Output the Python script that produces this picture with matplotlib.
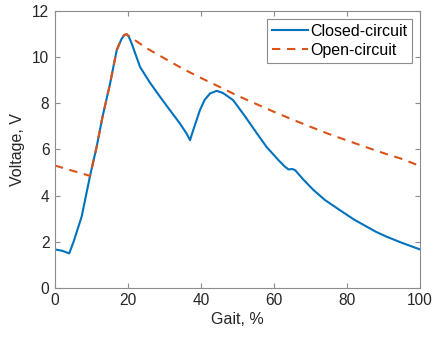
import matplotlib
matplotlib.use("Agg")
import matplotlib.pyplot as plt

plt.rcParams['font.family'] = ['Liberation Sans', 'DejaVu Sans']

# closed-circuit voltage
closed_x = [0, 2, 3.9, 5, 7.3, 9.6, 11.4, 13, 15.1, 16.9, 18.2, 19.0, 19.6, 20.2, 21,
            23.3, 26, 28.8, 31.5, 34.2, 36, 37, 38, 39.7, 41, 42.5, 44.3, 46, 48.8,
            52, 55.3, 58, 61.2, 63, 64, 65, 65.8, 68, 70.8, 74, 78, 82, 85.4, 88,
            90.9, 95, 100]
closed_v = [1.66, 1.6, 1.49, 1.95, 3.08, 4.85, 6.1, 7.4, 8.86, 10.3, 10.78, 10.96,
            11.0, 10.9, 10.6, 9.58, 8.9, 8.28, 7.7, 7.13, 6.7, 6.4, 6.9, 7.7, 8.15,
            8.43, 8.54, 8.45, 8.14, 7.45, 6.7, 6.1, 5.54, 5.25, 5.13, 5.15, 5.1, 4.7,
            4.24, 3.8, 3.37, 2.95, 2.65, 2.42, 2.21, 1.95, 1.66]

# open-circuit voltage
open_x = [0, 9.6, 11.4, 13, 15.1, 16.9, 18.2, 19.0, 19.6, 20, 25, 30, 35, 40, 45, 50,
          55, 60, 65, 70, 75, 80, 85, 90, 95, 100]
open_v = [5.3, 4.85, 6.1, 7.4, 8.86, 10.3, 10.8, 10.97, 11.0, 10.95, 10.4, 9.95, 9.5,
          9.1, 8.72, 8.33, 7.98, 7.63, 7.3, 6.98, 6.67, 6.39, 6.11, 5.84, 5.59, 5.28]

fig = plt.figure(figsize=(4.34, 3.37), dpi=100)
ax = fig.add_axes([0.1267, 0.1463, 0.841, 0.8207])

ax.plot(closed_x, closed_v, color='#0072BD', lw=1.5, label='Closed-circuit')
ax.plot(open_x, open_v, color='#D95319', lw=1.5, dashes=(4, 3.2), label='Open-circuit')

ax.set_xlim(0, 100)
ax.set_ylim(0, 12)
ax.set_xticks([0, 20, 40, 60, 80, 100])
ax.set_yticks([0, 2, 4, 6, 8, 10, 12])

for s in ax.spines.values():
    s.set_color('#8c8c8c')
    s.set_linewidth(0.8)
ax.tick_params(direction='in', length=3.5, width=0.8, colors='#8c8c8c',
               labelcolor='#262626', labelsize=11.2, top=True, right=True, pad=4)

ax.set_xlabel('Gait, %', fontsize=11.5, color='#262626', labelpad=3)
ax.set_ylabel('Voltage, V', fontsize=11.5, color='#262626', labelpad=5)

leg = ax.legend(loc='upper right', fontsize=11.5, fancybox=False, framealpha=1,
                edgecolor='#8c8c8c', borderaxespad=0.5, handlelength=2.25,
                handletextpad=0.12, borderpad=0.3, labelspacing=0.25)
leg.get_frame().set_linewidth(0.8)

fig.savefig('out.png', dpi=100)
